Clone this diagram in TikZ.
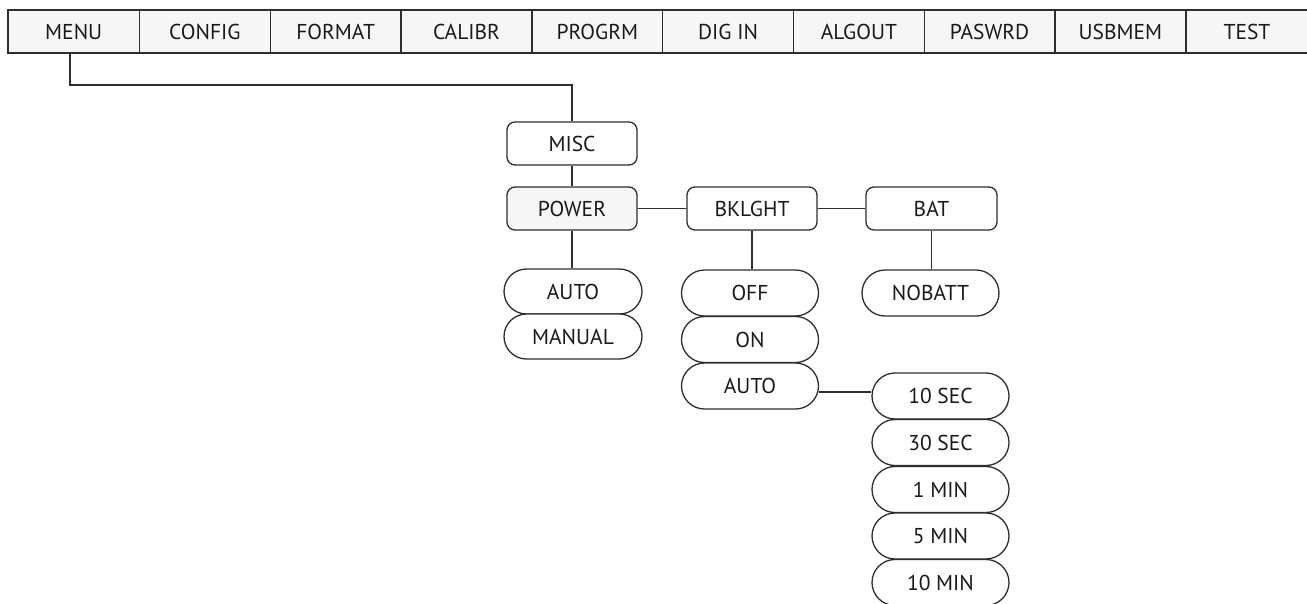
\documentclass[tikz,border=0pt]{standalone}
\usepackage{fontspec}
\setmainfont{PT Sans}
\usetikzlibrary{shapes.misc,positioning,calc}
\definecolor{lc}{HTML}{2E2E2E}
\definecolor{barfill}{HTML}{F6F6F6}
\definecolor{txt}{HTML}{1A1A1A}
\tikzset{
  base/.style={draw=lc, line width=1.3pt, text=txt, font=\fontsize{21.5}{24}\selectfont, inner sep=0pt},
  cell/.style={base, rectangle, fill=barfill, minimum width=130.8pt, minimum height=43pt},
  rbox/.style={base, rectangle, rounded corners=8pt, fill=white, minimum width=130pt, minimum height=43pt},
  pill/.style={base, rounded rectangle, fill=white, minimum width=137pt, minimum height=46pt},
  conn/.style={draw=lc, line width=1.3pt}
}
\begin{document}
\begin{tikzpicture}[x=1pt,y=-1pt]
\useasboundingbox (0,0) rectangle (1307,603);
% top menu bar
\node[cell, minimum width=131.5pt] (m1) at (73.75,31.5) {MENU};
\node[cell] (m2) at (204.9,31.5) {CONFIG};
\node[cell] (m3) at (335.7,31.5) {FORMAT};
\node[cell] (m4) at (466.5,31.5) {CALIBR};
\node[cell] (m5) at (597.3,31.5) {PROGRM};
\node[cell] (m6) at (728.1,31.5) {DIG IN};
\node[cell] (m7) at (858.9,31.5) {ALGOUT};
\node[cell] (m8) at (989.6,31.5) {PASWRD};
\node[cell] (m9) at (1120.4,31.5) {USBMEM};
\node[cell, minimum width=122pt] (m10) at (1247,31.5) {TEST};
% tree
\node[rbox] (misc) at (572,143.5) {MISC};
\node[rbox, fill=barfill] (power) at (572,208.5) {POWER};
\node[rbox] (bk) at (752,208.5) {BKLGHT};
\node[rbox, minimum width=131pt] (bat) at (931.5,208.5) {BAT};
\node[pill, minimum width=138pt, minimum height=45pt] (pauto) at (573,291.5) {AUTO};
\node[pill, minimum width=138pt, minimum height=45pt] (pman) at (573,336.5) {MANUAL};
\node[pill] (off) at (750,293) {OFF};
\node[pill] (on) at (750,339.5) {ON};
\node[pill] (bauto) at (750,386) {AUTO};
\node[pill] (nobatt) at (930.5,293) {NOBATT};
\node[pill] (s10) at (940.5,396) {10 SEC};
\node[pill] (s30) at (940.5,442.5) {30 SEC};
\node[pill] (n1) at (940.5,489.5) {1 MIN};
\node[pill] (n5) at (940.5,536) {5 MIN};
\node[pill] (n10) at (940.5,582.5) {10 MIN};
% connectors
\coordinate (c1) at (70,85);
\draw[conn] (m1.south -| c1) -- (c1) -- (c1 -| misc.north) -- (misc.north);
\draw[conn] (misc.south) -- (power.north);
\draw[conn] (power.south) -- (pauto.north -| power.south);
\draw[conn] (power.east) -- (bk.west);
\draw[conn] (bk.east) -- (bat.west);
\draw[conn] (bk.south) -- (off.north -| bk.south);
\draw[conn] (bat.south) -- (nobatt.north -| bat.south);
\draw[conn] ([yshift=-6pt]bauto.east) -- ([yshift=4pt]s10.west);
\end{tikzpicture}
\end{document}
